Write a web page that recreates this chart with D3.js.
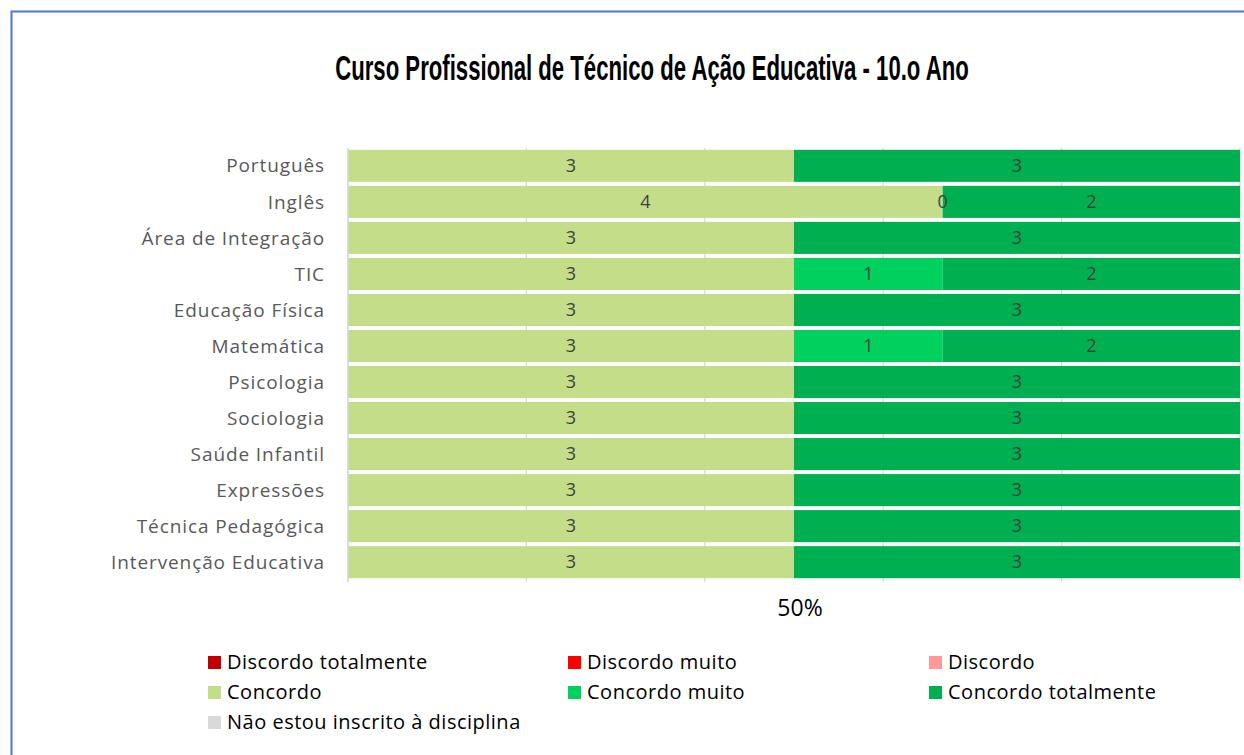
<!DOCTYPE html>
<html>
<head>
<meta charset="utf-8">
<script src="https://cdn.jsdelivr.net/npm/d3@7"></script>
<style>
  body { margin: 0; background: #fff; }
  text { font-family: "Open Sans", sans-serif; }
</style>
</head>
<body>
<script>
// subjects (top to bottom)
var subjects = ["Português", "Inglês", "Área de Integração", "TIC", "Educação Física", "Matemática",
  "Psicologia", "Sociologia", "Saúde Infantil", "Expressões", "Técnica Pedagógica", "Intervenção Educativa"];

var seriesNames = ["Discordo totalmente", "Discordo muito", "Discordo", "Concordo",
  "Concordo muito", "Concordo totalmente", "Não estou inscrito à disciplina"];
var seriesColors = ["#C00000", "#FF0000", "#FF9999", "#C4DD88", "#00D05E", "#00B050", "#D9D9D9"];

// null = empty cell (no label)
var discordoTotalmente = [null, null, null, null, null, null, null, null, null, null, null, null];
var discordoMuito      = [null, null, null, null, null, null, null, null, null, null, null, null];
var discordo           = [null, null, null, null, null, null, null, null, null, null, null, null];
var concordo           = [3, 4, 3, 3, 3, 3, 3, 3, 3, 3, 3, 3];
var concordoMuito      = [null, 0, null, 1, null, 1, null, null, null, null, null, null];
var concordoTotalmente = [3, 2, 3, 2, 3, 2, 3, 3, 3, 3, 3, 3];
var naoInscrito        = [null, null, null, null, null, null, null, null, null, null, null, null];

var seriesValues = [discordoTotalmente, discordoMuito, discordo, concordo, concordoMuito, concordoTotalmente, naoInscrito];
var xTicks = [0, 0.2, 0.4, 0.6, 0.8, 1];
var xTickLabels = {0.5: "50%"};

var W = 1244, H = 755;
var margin = {top: 148, left: 348, right: 4, bottom: 173};
var width = W - margin.left - margin.right,
    height = H - margin.top - margin.bottom;

var svg = d3.select("body").append("svg")
    .attr("width", W)
    .attr("height", H);

// outer border
svg.append("rect")
    .attr("x", 11.5).attr("y", 11.5)
    .attr("width", W).attr("height", H)
    .attr("fill", "none")
    .attr("stroke", "#4A78D0")
    .attr("stroke-width", 2);

var titleG = svg.append("g").attr("transform", "translate(652,80)");
var title = titleG.append("text")
    .attr("text-anchor", "middle")
    .style("font-family", "'Liberation Sans Narrow', 'Liberation Sans', sans-serif")
    .style("font-weight", "bold")
    .style("font-size", "36px")
    .attr("fill", "#000")
    .text("Curso Profissional de Técnico de Ação Educativa - 10.o Ano");
var tl = title.node().getComputedTextLength();
title.attr("transform", "scale(" + (634 / tl) + ",1)");

var g = svg.append("g")
    .attr("transform", "translate(" + margin.left + "," + margin.top + ")");

var x = d3.scaleLinear().domain([0, 1]).range([0, width]);
var y = d3.scaleBand().domain(subjects).range([0, height - 2]).paddingInner(0.11).paddingOuter(0.05);

// gridlines
g.selectAll(".grid")
    .data(xTicks)
    .enter().append("line")
    .attr("x1", function(d) { return x(d); })
    .attr("x2", function(d) { return x(d); })
    .attr("y1", 0)
    .attr("y2", height)
    .attr("stroke", "#D9D9D9")
    .attr("stroke-width", 1.3);

// stack
var rows = subjects.map(function(s, i) {
  var r = {subject: s};
  seriesNames.forEach(function(n, k) { r[n] = seriesValues[k][i] || 0; });
  return r;
});
var stack = d3.stack().keys(seriesNames).offset(d3.stackOffsetExpand);
var layers = stack(rows);

layers.forEach(function(layer, k) {
  var lg = g.append("g");
  lg.selectAll("rect")
    .data(layer)
    .enter().append("rect")
    .attr("x", function(d) { return x(d[0]); })
    .attr("y", function(d) { return y(d.data.subject); })
    .attr("width", function(d) { return x(d[1]) - x(d[0]); })
    .attr("height", y.bandwidth())
    .attr("fill", seriesColors[k]);
});

// labels on top
layers.forEach(function(layer, k) {
  g.append("g").selectAll("text")
    .data(layer.filter(function(d, i) { return seriesValues[k][i] !== null; }))
    .enter().append("text")
    .attr("x", function(d) { return x((d[0] + d[1]) / 2); })
    .attr("y", function(d) { return y(d.data.subject) + y.bandwidth() / 2; })
    .attr("dy", "0.35em")
    .attr("text-anchor", "middle")
    .style("font-size", "18px")
    .attr("fill", "#404040")
    .text(function(d) { return d.data[seriesNames[k]]; });
});

// y axis labels
g.append("line")
    .attr("x1", 0).attr("x2", 0).attr("y1", 0).attr("y2", height)
    .attr("stroke", "#D9D9D9").attr("stroke-width", 1.3);
g.selectAll(".ylab")
    .data(subjects)
    .enter().append("text")
    .attr("x", -23)
    .attr("y", function(d) { return y(d) + y.bandwidth() / 2; })
    .attr("dy", "0.35em")
    .attr("text-anchor", "end")
    .style("font-size", "19px")
    .style("letter-spacing", "0.9px")
    .attr("fill", "#595959")
    .text(function(d) { return d; });

// x label
g.selectAll(".xlab")
    .data([0.5])
    .enter().append("text")
    .attr("x", function(d) { return x(d) + 6; })
    .attr("y", height + 34)
    .attr("text-anchor", "middle")
    .style("font-size", "23px")
    .attr("fill", "#000")
    .text(function(d) { return xTickLabels[d]; });

// legend
var legCols = [208, 568, 929], legRows = [662, 692, 722];
var leg = svg.append("g").selectAll("g")
    .data(seriesNames)
    .enter().append("g")
    .attr("transform", function(d, i) {
      return "translate(" + legCols[i % 3] + "," + legRows[Math.floor(i / 3)] + ")";
    });
leg.append("rect")
    .attr("x", 0).attr("y", -6)
    .attr("width", 13).attr("height", 13)
    .attr("fill", function(d, i) { return seriesColors[i]; });
leg.append("text")
    .attr("x", 19)
    .attr("dy", "0.35em")
    .style("font-size", "20px")
    .style("letter-spacing", "0.5px")
    .attr("fill", "#000")
    .text(function(d) { return d; });
</script>
</body>
</html>
